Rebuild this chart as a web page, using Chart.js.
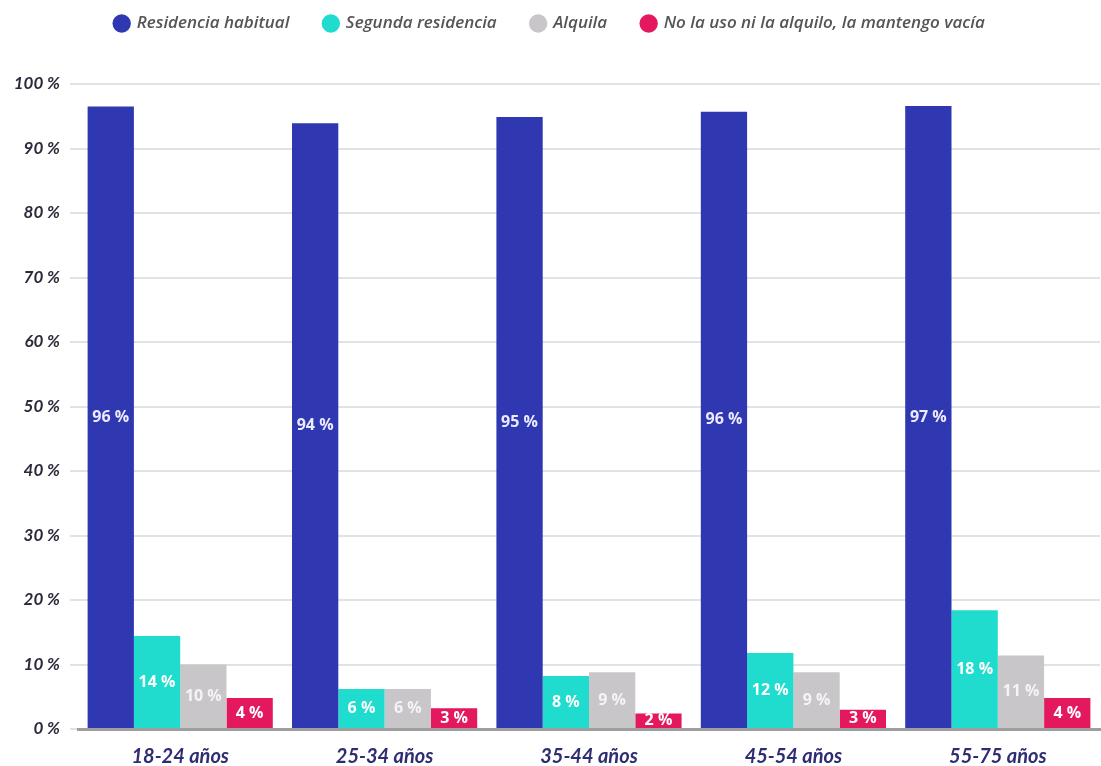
<!DOCTYPE html>
<html>
<head>
<meta charset="utf-8">
<script src="https://cdn.jsdelivr.net/npm/chart.js@4.4.1/dist/chart.umd.min.js"></script>
<style>
  html, body { margin: 0; padding: 0; background: #ffffff; }
  #wrap { width: 1101px; height: 766px; position: relative; }
</style>
</head>
<body>
<div id="wrap"><canvas id="c"></canvas></div>
<script>
const categories = ['18-24 años', '25-34 años', '35-44 años', '45-54 años', '55-75 años'];
const seriesNames = ['Residencia habitual', 'Segunda residencia', 'Alquila', 'No la uso ni la alquilo, la mantengo vacía'];
const residenciaHabitual = [96.5, 93.9, 94.9, 95.7, 96.6];
const segundaResidencia = [14.4, 6.2, 8.2, 11.8, 18.4];
const alquila = [10.0, 6.2, 8.8, 8.8, 11.4];
const vacia = [4.8, 3.2, 2.4, 3.0, 4.8];
// labels as printed in the source
const labelsHabitual = ['96 %', '94 %', '95 %', '96 %', '97 %'];
const labelsSegunda = ['14 %', '6 %', '8 %', '12 %', '18 %'];
const labelsAlquila = ['10 %', '6 %', '9 %', '9 %', '11 %'];
const labelsVacia = ['4 %', '3 %', '2 %', '3 %', '4 %'];
const yTicks = [0, 10, 20, 30, 40, 50, 60, 70, 80, 90, 100];

const colors = ['#2f38b0', '#1fdccf', '#c8c6c8', '#e3185f'];
const labelColors = ['#eceaff', '#ffffff', '#f4f4f4', '#ffffff'];

const seriesData = [residenciaHabitual, segundaResidencia, alquila, vacia];
const seriesLabels = [labelsHabitual, labelsSegunda, labelsAlquila, labelsVacia];

const legendSpacer = {
  id: 'legendSpacer',
  beforeInit(chart) {
    const origFit = chart.legend.fit;
    chart.legend.fit = function () {
      origFit.bind(chart.legend)();
      this.height += 42;
    };
  }
};

const barLabelPlugin = {
  id: 'barLabels',
  afterDatasetsDraw(chart) {
    const ctx = chart.ctx;
    ctx.save();
    ctx.font = 'bold 16px "Open Sans", Roboto, sans-serif';
    ctx.textAlign = 'center';
    ctx.textBaseline = 'middle';
    chart.data.datasets.forEach((ds, di) => {
      const meta = chart.getDatasetMeta(di);
      meta.data.forEach((bar, i) => {
        const txt = seriesLabels[di][i];
        const yMid = (bar.y + bar.base) / 2;
        ctx.fillStyle = labelColors[di];
        ctx.fillText(txt, bar.x, yMid);
      });
    });
    ctx.restore();
  }
};

new Chart(document.getElementById('c'), {
  type: 'bar',
  data: {
    labels: categories,
    datasets: seriesNames.map((n, i) => ({
      label: n,
      data: seriesData[i],
      backgroundColor: colors[i],
      borderWidth: 0,
      barPercentage: 1.0,
      categoryPercentage: 0.906
    }))
  },
  options: {
    responsive: true,
    maintainAspectRatio: false,
    animation: false,
    layout: { padding: { top: -20, right: 1, left: 0, bottom: 0 } },
    plugins: {
      tooltip: { enabled: false },
      legend: {
        position: 'top',
        align: 'center',
        labels: {
          usePointStyle: true,
          pointStyle: 'circle',
          boxWidth: 13,
          boxHeight: 13,
          padding: 35,
          color: '#555555',
          font: { family: '"Open Sans", Lato, sans-serif', size: 17, style: 'italic', weight: '600' }
        }
      }
    },
    scales: {
      x: {
        grid: { display: false },
        border: { display: true, color: '#9e9e9e', width: 3 },
        ticks: {
          color: '#2e2d72',
          padding: 8,
          font: { family: 'Lato, "DejaVu Serif", serif', size: 20, style: 'italic', weight: 'bold' }
        },
        afterFit(scale) { scale.height = 37; }
      },
      y: {
        min: 0,
        max: 100,
        afterBuildTicks(scale) { scale.ticks = yTicks.map(v => ({ value: v })); },
        grid: { color: '#e2e2e2', lineWidth: 2, drawTicks: true, tickLength: 8 },
        border: { display: false },
        ticks: {
          color: '#2b2a3a',
          padding: 10,
          callback: v => v + ' %',
          font: { family: 'Lato, "Open Sans", sans-serif', size: 17, style: 'italic', weight: 'bold' }
        },
        afterFit(scale) { scale.width = 78; }
      }
    }
  },
  plugins: [legendSpacer, barLabelPlugin]
});
</script>
</body>
</html>
